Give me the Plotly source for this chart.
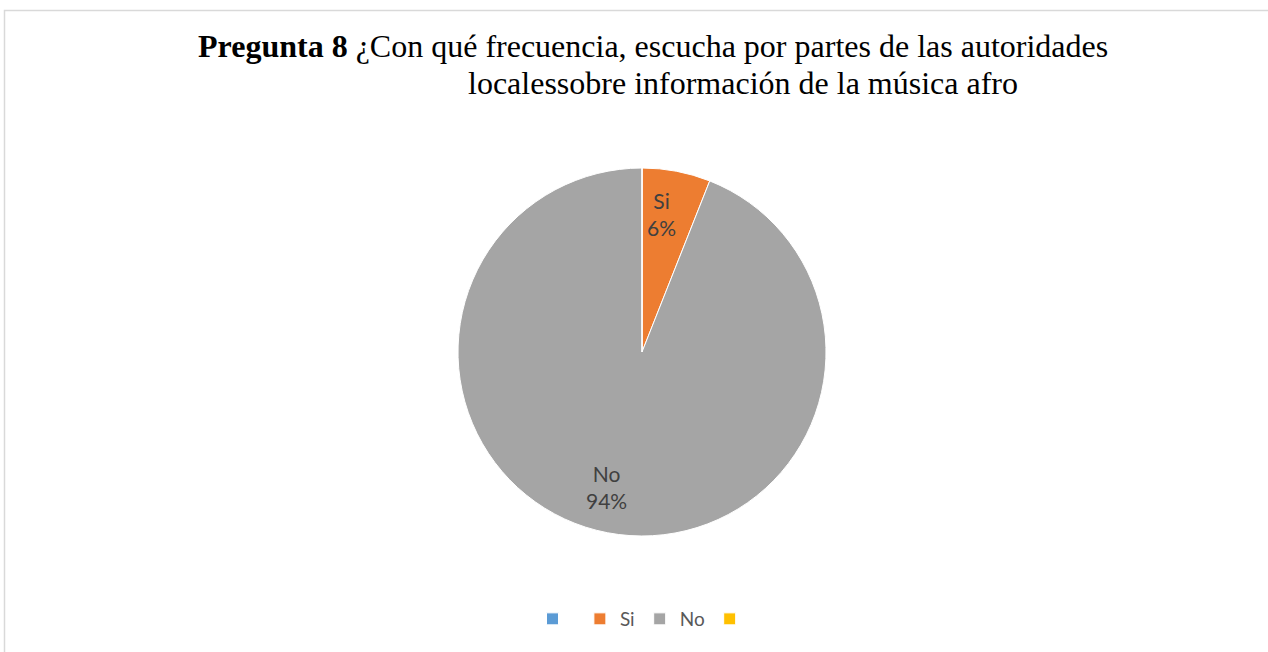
import math
import plotly.graph_objects as go

W, H = 1268, 652

# ---- data ----
categories = ["\u2009", "Si", "No", "\u2009\u2009"]
values = [0, 6, 94, 0]
colors = ["#5B9BD5", "#ED7D31", "#A5A5A5", "#FFC000"]
title_bold = "Pregunta 8"
title_line1 = " ¿Con qué frecuencia, escucha por partes de las autoridades"
title_line2 = "localessobre información de la música afro"

# ---- layout helpers (pixel -> paper) ----
def px(x):
    return x / W

def py(y):
    return 1 - y / H

cx, cy, r = 642, 352, 184  # pie centre and radius in pixels
dom_x = [px(cx - r), px(cx + r)]
dom_y = [py(cy + r), py(cy - r)]

fig = go.Figure()
fig.add_trace(go.Pie(
    labels=categories,
    values=values,
    sort=False,
    direction="clockwise",
    rotation=0,
    marker=dict(colors=colors, line=dict(color="white", width=1)),
    textinfo="none",
    hoverinfo="label+percent",
    domain=dict(x=dom_x, y=dom_y),
    showlegend=True,
))

# data labels computed from the values (near centre of each slice)
label_angle_offsets = [0, -2.6, 4.1, 0]  # degrees, placement tweak
total = sum(values)
cum = 0
for lab, v, off in zip(categories, values, label_angle_offsets):
    if v > 0:
        mid = (cum + v / 2) / total * 2 * math.pi + math.radians(off)
        rr = 0.76 * r
        lx = cx + rr * math.sin(mid)
        ly = cy - rr * math.cos(mid)
        fig.add_annotation(
            x=px(lx), y=py(ly), xref="paper", yref="paper",
            text=f"{lab.strip()}<br>{round(v / total * 100)}%",
            showarrow=False, xanchor="center", yanchor="middle",
            font=dict(family="Lato", size=21, color="#404040"),
        )
    cum += v

# title (two lines)
fig.add_annotation(
    x=px(196), y=py(46), xref="paper", yref="paper",
    text=f"<b>{title_bold}</b>{title_line1}",
    showarrow=False, xanchor="left", yanchor="middle",
    font=dict(family="Liberation Serif", size=32, color="#000000"),
)
fig.add_annotation(
    x=px(466), y=py(83), xref="paper", yref="paper",
    text=title_line2,
    showarrow=False, xanchor="left", yanchor="middle",
    font=dict(family="Liberation Serif", size=32, color="#000000"),
)

# chart frame
fig.add_shape(
    type="rect", xref="paper", yref="paper",
    x0=px(4.5), x1=1.02, y0=-0.02, y1=py(10.5),
    line=dict(color="#D9D9D9", width=1.5), fillcolor="rgba(0,0,0,0)",
)

fig.update_layout(
    width=W, height=H,
    margin=dict(l=0, r=0, t=0, b=0),
    paper_bgcolor="white",
    plot_bgcolor="white",
    legend=dict(
        orientation="h", x=px(646), xanchor="center", y=py(619), yanchor="middle",
        font=dict(family="Lato", size=19, color="#595959"),
        traceorder="normal",
    ),
)

fig.write_html(
    "out.html",
    config={"displayModeBar": False},
    post_script="document.body.style.margin='0';document.body.style.overflow='hidden';",
)
